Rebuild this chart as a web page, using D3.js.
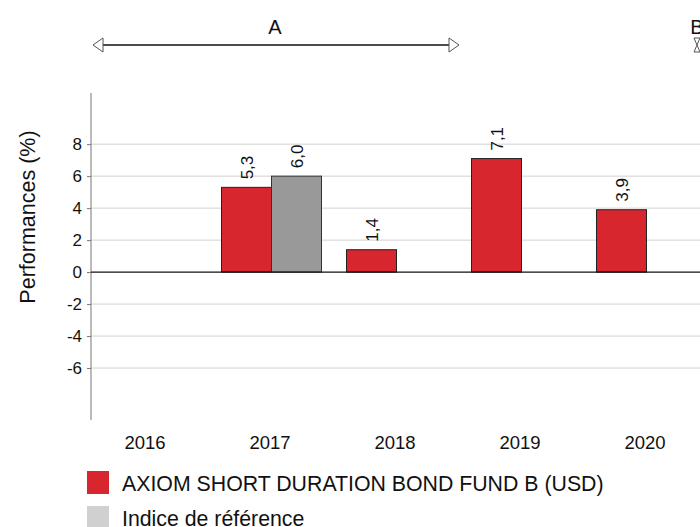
<!DOCTYPE html>
<html>
<head>
<meta charset="utf-8">
<script src="https://cdn.jsdelivr.net/npm/d3@7"></script>
<style>
  body { margin: 0; background: #fff; }
  text { font-family: "Liberation Sans", Arial, sans-serif; fill: #111; }
</style>
</head>
<body>
<script>
// data
var years = ["2016", "2017", "2018", "2019", "2020"];
var fundValues = [null, 5.3, 1.4, 7.1, 3.9];
var indexValues = [null, 6.0, null, null, null];
var yTicks = [-6, -4, -2, 0, 2, 4, 6, 8];
var seriesNames = ["AXIOM SHORT DURATION BOND FUND B (USD)", "Indice de référence"];
var periodLabels = ["A", "B"];

var width = 700, height = 527;
var axisX = 91;

var svg = d3.select("body").append("svg")
    .attr("width", width)
    .attr("height", height);

var x = d3.scaleBand()
    .domain(years)
    .range([84, 709])
    .paddingInner(0.2)
    .paddingOuter(0.1);

var xs = d3.scaleBand()
    .domain(["fund", "index"])
    .range([0, x.bandwidth()]);

var y = d3.scaleLinear()
    .domain([-9.25, 11.2])
    .range([420, 93]);

// grid lines
svg.selectAll("line.grid")
    .data(yTicks.filter(function(d){ return d !== 0; }))
    .enter().append("line")
    .attr("class", "grid")
    .attr("x1", axisX)
    .attr("x2", width)
    .attr("y1", function(d){ return y(d); })
    .attr("y2", function(d){ return y(d); })
    .attr("stroke", "#d2d2d2")
    .attr("stroke-width", 1);

// y axis
var yAxis = d3.axisLeft(y)
    .tickValues(yTicks)
    .tickSize(4)
    .tickPadding(5)
    .tickFormat(function(d){ return String(d); });

var gy = svg.append("g")
    .attr("transform", "translate(" + axisX + ",0)")
    .call(yAxis);
gy.select(".domain").attr("stroke", "#777").attr("d", "M0," + y.range()[1] + "V" + y.range()[0]);
gy.selectAll(".tick line").attr("stroke", "#777");
gy.selectAll(".tick text")
    .attr("font-size", "17px")
    .attr("font-family", "Liberation Sans, Arial, sans-serif")
    .attr("fill", "#111");

// bars
var fundColor = "#d7262d", indexColor = "#999999";

svg.selectAll("rect.fund")
    .data(years.map(function(yr, i){ return {year: yr, v: fundValues[i]}; })
        .filter(function(d){ return d.v !== null; }))
    .enter().append("rect")
    .attr("class", "fund")
    .attr("x", function(d){ return x(d.year) + xs("fund"); })
    .attr("width", xs.bandwidth())
    .attr("y", function(d){ return y(Math.max(0, d.v)); })
    .attr("height", function(d){ return Math.abs(y(d.v) - y(0)); })
    .attr("fill", fundColor)
    .attr("stroke", "#222")
    .attr("stroke-width", 1);

svg.selectAll("rect.index")
    .data(years.map(function(yr, i){ return {year: yr, v: indexValues[i]}; })
        .filter(function(d){ return d.v !== null; }))
    .enter().append("rect")
    .attr("class", "index")
    .attr("x", function(d){ return x(d.year) + xs("index"); })
    .attr("width", xs.bandwidth())
    .attr("y", function(d){ return y(Math.max(0, d.v)); })
    .attr("height", function(d){ return Math.abs(y(d.v) - y(0)); })
    .attr("fill", indexColor)
    .attr("stroke", "#333")
    .attr("stroke-width", 1);

// zero line
svg.append("line")
    .attr("x1", axisX)
    .attr("x2", width)
    .attr("y1", y(0))
    .attr("y2", y(0))
    .attr("stroke", "#111")
    .attr("stroke-width", 1.2);

// value labels (rotated)
var labels = [];
years.forEach(function(yr, i){
    if (fundValues[i] !== null) labels.push({year: yr, s: "fund", v: fundValues[i]});
    if (indexValues[i] !== null) labels.push({year: yr, s: "index", v: indexValues[i]});
});
svg.selectAll("text.val")
    .data(labels)
    .enter().append("text")
    .attr("class", "val")
    .attr("transform", function(d){
        var cx = x(d.year) + xs(d.s) + xs.bandwidth() / 2 + 6;
        var cy = y(d.v) - 8;
        return "translate(" + cx + "," + cy + ") rotate(-90)";
    })
    .attr("font-size", "17px")
    .text(function(d){ return d3.format(".1f")(d.v).replace(".", ","); });

// x labels
svg.selectAll("text.year")
    .data(years)
    .enter().append("text")
    .attr("class", "year")
    .attr("x", function(d){ return x(d) + x.bandwidth() / 2 - 1.5; })
    .attr("y", 449)
    .attr("text-anchor", "middle")
    .attr("font-size", "18.5px")
    .text(function(d){ return d; });

// y label
svg.append("text")
    .attr("transform", "translate(35,217) rotate(-90)")
    .attr("text-anchor", "middle")
    .attr("font-size", "21.5px")
    .text("Performances (%)");

// period A arrow
var aStart = axisX + 2;
var aEnd = x("2018") + x.bandwidth() + x.step() * 0.1;
var arrowY = 45;
svg.append("line")
    .attr("x1", aStart + 10)
    .attr("x2", aEnd - 10)
    .attr("y1", arrowY)
    .attr("y2", arrowY)
    .attr("stroke", "#111")
    .attr("stroke-width", 1.5);
svg.append("path")
    .attr("d", "M" + aStart + "," + arrowY + "L" + (aStart + 10) + "," + (arrowY - 7) + "L" + (aStart + 10) + "," + (arrowY + 7) + "Z")
    .attr("fill", "#fff")
    .attr("stroke", "#555");
svg.append("path")
    .attr("d", "M" + aEnd + "," + arrowY + "L" + (aEnd - 10) + "," + (arrowY - 7) + "L" + (aEnd - 10) + "," + (arrowY + 7) + "Z")
    .attr("fill", "#fff")
    .attr("stroke", "#555");
svg.append("text")
    .attr("x", (aStart + aEnd) / 2 - 1)
    .attr("y", 34)
    .attr("text-anchor", "middle")
    .attr("font-size", "20px")
    .text(periodLabels[0]);

// period B (collapsed)
var bX = x("2020") + x.bandwidth() + 0.5;
svg.append("path")
    .attr("d", "M" + (bX - 3) + "," + (arrowY - 7) + "L" + (bX + 3) + "," + (arrowY + 7) +
        "M" + (bX + 3) + "," + (arrowY - 7) + "L" + (bX - 3) + "," + (arrowY + 7) +
        "M" + (bX - 3) + "," + (arrowY - 7) + "L" + (bX + 3) + "," + (arrowY - 7) +
        "M" + (bX - 3) + "," + (arrowY + 7) + "L" + (bX + 3) + "," + (arrowY + 7))
    .attr("fill", "none")
    .attr("stroke", "#555")
    .attr("stroke-width", 1);
svg.append("text")
    .attr("x", bX)
    .attr("y", 34)
    .attr("text-anchor", "middle")
    .attr("font-size", "20px")
    .text(periodLabels[1]);

// legend
var legendColors = [fundColor, "#d0d0d0"];
var legend = svg.selectAll("g.legend")
    .data(seriesNames)
    .enter().append("g")
    .attr("class", "legend")
    .attr("transform", function(d, i){ return "translate(87," + (471 + i * 35) + ")"; });
legend.append("rect")
    .attr("width", 22)
    .attr("height", 23)
    .attr("fill", function(d, i){ return legendColors[i]; });
legend.append("text")
    .attr("x", 35)
    .attr("y", 20)
    .attr("font-size", "21.3px")
    .text(function(d){ return d; });
</script>
</body>
</html>
